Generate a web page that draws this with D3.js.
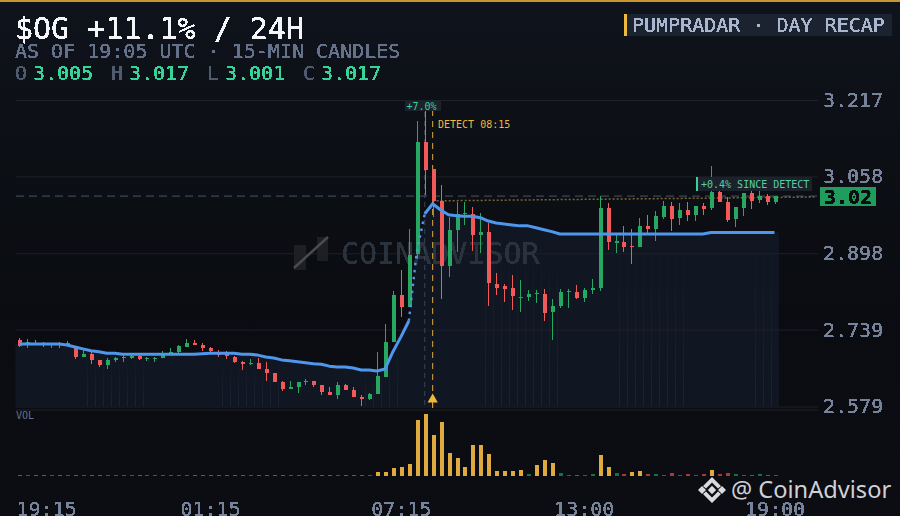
<!DOCTYPE html>
<html>
<head>
<meta charset="utf-8">
<script src="https://cdn.jsdelivr.net/npm/d3@7"></script>
<style>
  html, body { margin: 0; padding: 0; background: #0b0d12; overflow: hidden; }
  svg { display: block; font-family: "DejaVu Sans Mono", monospace; }
</style>
</head>
<body>
<div id="chart"></div>
<script>
// 15-min candles, index 0 = 19:15
const opens = [2.718,2.706,2.712,2.711,2.707,2.711,2.705,2.705,2.682,2.688,2.676,2.665,2.676,2.680,2.680,2.684,2.678,2.679,2.680,2.690,2.693,2.703,2.711,2.707,2.701,2.693,2.688,2.682,2.672,2.668,2.670,2.657,2.649,2.630,2.615,2.620,2.630,2.632,2.624,2.609,2.603,2.624,2.613,2.599,2.595,2.605,2.640,2.713,2.811,2.786,2.897,3.130,3.074,3.007,2.872,2.947,2.979,2.980,2.936,2.943,2.834,2.830,2.826,2.805,2.807,2.813,2.813,2.776,2.788,2.818,2.818,2.805,2.822,2.826,2.993,2.920,2.922,2.913,2.911,2.955,2.949,2.974,2.997,2.972,2.988,2.978,2.997,2.993,3.026,3.005,2.970,2.993,3.024,3.009,3.018,3.005];
const highs = [2.722,2.720,2.718,2.713,2.712,2.713,2.715,2.705,2.697,2.693,2.676,2.680,2.682,2.690,2.686,2.686,2.682,2.682,2.695,2.701,2.707,2.720,2.718,2.711,2.703,2.697,2.695,2.684,2.674,2.678,2.680,2.672,2.649,2.632,2.632,2.630,2.636,2.632,2.624,2.620,2.630,2.626,2.620,2.603,2.607,2.693,2.751,2.820,2.863,2.949,3.174,3.197,3.074,3.040,2.974,3.005,3.005,2.995,2.982,2.961,2.857,2.834,2.853,2.843,2.822,2.822,2.824,2.803,2.824,2.824,2.832,2.826,2.845,3.018,3.003,2.936,2.955,2.949,2.972,2.978,2.986,3.007,3.005,3.003,3.005,2.997,3.003,3.080,3.028,3.015,2.995,3.024,3.028,3.028,3.022,3.017];
const lows = [2.703,2.701,2.709,2.703,2.701,2.701,2.705,2.678,2.682,2.668,2.661,2.657,2.672,2.672,2.678,2.676,2.674,2.672,2.680,2.690,2.690,2.703,2.707,2.695,2.693,2.682,2.678,2.670,2.655,2.665,2.657,2.632,2.630,2.611,2.615,2.607,2.624,2.620,2.603,2.603,2.595,2.613,2.599,2.580,2.593,2.605,2.640,2.713,2.765,2.786,2.886,3.020,2.974,2.803,2.849,2.901,2.957,2.903,2.899,2.788,2.811,2.797,2.780,2.776,2.799,2.795,2.757,2.718,2.784,2.784,2.803,2.797,2.813,2.820,2.905,2.899,2.901,2.876,2.911,2.940,2.924,2.970,2.945,2.957,2.965,2.965,2.978,2.988,3.005,2.963,2.953,2.976,2.990,3.003,2.999,3.001];
const closes = [2.705,2.713,2.710,2.709,2.709,2.707,2.711,2.682,2.688,2.676,2.665,2.676,2.680,2.681,2.684,2.678,2.679,2.680,2.686,2.692,2.705,2.711,2.707,2.701,2.695,2.687,2.684,2.672,2.668,2.670,2.657,2.649,2.630,2.615,2.620,2.630,2.632,2.624,2.609,2.603,2.624,2.613,2.599,2.595,2.605,2.643,2.713,2.811,2.786,2.895,3.130,3.072,3.007,2.872,2.947,2.980,2.981,2.936,2.943,2.836,2.826,2.824,2.809,2.807,2.813,2.815,2.774,2.788,2.818,2.820,2.805,2.822,2.826,2.993,2.922,2.924,2.911,2.911,2.955,2.949,2.976,2.997,2.970,2.988,2.978,2.997,2.990,3.026,3.005,2.968,2.995,3.024,3.007,3.018,3.005,3.017];
const avgLine = [2.709,2.709,2.709,2.709,2.709,2.709,2.707,2.703,2.699,2.695,2.693,2.690,2.690,2.688,2.688,2.688,2.688,2.688,2.688,2.688,2.688,2.688,2.688,2.689,2.690,2.690,2.690,2.690,2.688,2.688,2.686,2.682,2.680,2.676,2.674,2.672,2.670,2.668,2.667,2.663,2.661,2.661,2.659,2.655,2.655,2.653,2.657,2.693,2.724,2.757,2.901,2.980,3.001,2.988,2.978,2.976,2.975,2.975,2.972,2.965,2.961,2.959,2.957,2.955,2.955,2.951,2.947,2.943,2.938,2.938,2.938,2.938,2.938,2.938,2.938,2.938,2.938,2.938,2.938,2.938,2.938,2.938,2.938,2.938,2.938,2.938,2.938,2.941,2.941,2.941,2.941,2.941,2.941,2.941,2.941,2.941];
const volumes = [1,1,1,1,1,1,1,1,1,1,1,1,1,1,1,1,1,1,1,1,1,1,1,1,1,1,1,1,1,1,1,1,1,1,1,1,1,1,1,1,1,1,1,1,1,4,4,8,9,12,56,62,41,54,23,18,9,31,31,22,5,5,5,6,2,11,16,13,3,1,1,1,2,21,9,3,2,4,5,2,2,1,3,1,2,1,2,6,2,3,2,1,1,2,1,1];
const stripeAt = [8.5,9.5,10.5,11.5,12.5,13.5,14.5,15.5,25.5,26.5,27.5,28.5,29.5,30.5,31.5,32.5,43.5,44.5,45.5,46.5,47.5,58.6,59.6,60.6,61.6,62.6,63.6,64.6,65.6,66.6,67.6,75.5,76.5,77.5,78.5,79.5,80.5,81.5,82.5,83.5,92.5,93.5,94.5];

const priceTicks = [3.217, 3.058, 2.898, 2.739, 2.579];
const timeTicks = [0, 24, 48, 71, 95];
const timeLabels = ["19:15", "01:15", "07:15", "13:00", "19:00"];
const ohlcNames = ["O", "H", "L", "C"];
const ohlcValues = ["3.005", "3.017", "3.001", "3.017"];

const detectIndex = 52;
const highIndex = 51;
const lastPrice = 3.017;
const detectLine = [{ i: 52, p: 3.007 }, { i: 100, p: 3.015 }];

const GREEN = "#27a862", RED = "#f25a5a", BLUE = "#4f97ec", AMBER = "#efb93f", MINT = "#37d399", SLATE = "#64718a";

const width = 900, height = 516;
const svg = d3.select("#chart").append("svg").attr("width", width).attr("height", height).attr("viewBox", `0 0 ${width} ${height}`);

const defs = svg.append("defs");
const bg = defs.append("linearGradient").attr("id", "pageBg").attr("x1", "0").attr("y1", "0").attr("x2", "0").attr("y2", "1");
bg.append("stop").attr("offset", "0%").attr("stop-color", "#0f131c");
bg.append("stop").attr("offset", "22%").attr("stop-color", "#0d1016");
bg.append("stop").attr("offset", "60%").attr("stop-color", "#0a0c11");
bg.append("stop").attr("offset", "100%").attr("stop-color", "#0b0d12");
const fade = defs.append("linearGradient").attr("id", "stripeFade").attr("x1", "0").attr("y1", "0").attr("x2", "0").attr("y2", "1");
fade.append("stop").attr("offset", "0%").attr("stop-color", "#2b3b55").attr("stop-opacity", 0.02);
fade.append("stop").attr("offset", "100%").attr("stop-color", "#2b3b55").attr("stop-opacity", 0.35);
// hard alpha edge, so the mono text reads blocky like the terminal look of the original
defs.append("filter").attr("id", "blocky").attr("x", "-2%").attr("y", "-10%").attr("width", "104%").attr("height", "120%")
  .append("feComponentTransfer").append("feFuncA").attr("type", "discrete").attr("tableValues", "0 1 1 1");

svg.append("rect").attr("width", width).attr("height", height).attr("fill", "url(#pageBg)");
svg.append("rect").attr("width", width).attr("height", 2).attr("fill", "#c8962f");

const x = d3.scaleLinear().domain([0, 95]).range([19.3, 774.5]);
const y = d3.scaleLinear().domain([2.579, 3.217]).range([406.5, 100]);
const yVol = d3.scaleLinear().domain([0, 62]).range([476, 414]);

// shaded area under the average line
const areaData = [{ i: -0.5, p: avgLine[0] }, ...avgLine.map((p, i) => ({ i, p })), { i: 95.55, p: avgLine[95] }];
svg.append("path").datum(areaData).attr("fill", "#101622").attr("d", d3.area().x((d) => x(d.i)).y0(y(2.579)).y1((d) => y(d.p)));

svg.append("g").selectAll("rect").data(stripeAt).enter().append("rect")
  .attr("x", (d) => Math.round(x(d)))
  .attr("width", 1)
  .attr("y", (d) => y(avgLine[Math.round(d)]) + 4)
  .attr("height", (d) => y(2.579) - y(avgLine[Math.round(d)]) - 4)
  .attr("fill", "url(#stripeFade)");

// grid
const gridY = d3.axisLeft(y).tickValues(priceTicks).tickSize(-802).tickFormat(() => "");
const grid = svg.append("g").attr("transform", "translate(16,0)").call(gridY);
grid.select(".domain").remove();
grid.selectAll("line").attr("stroke", "#1e2128");
svg.append("line").attr("x1", 16).attr("x2", 818).attr("y1", 410).attr("y2", 410).attr("stroke", "#1e2128");

// watermark
svg.append("rect").attr("x", 294).attr("y", 245).attr("width", 12).attr("height", 25).attr("fill", "#1d1f25");
svg.append("rect").attr("x", 317).attr("y", 237).attr("width", 11).attr("height", 24).attr("fill", "#1d1f25");
svg.append("line").attr("x1", 294).attr("y1", 268).attr("x2", 328).attr("y2", 237).attr("stroke", "#4a4b4f").attr("stroke-width", 2.5);
svg.append("text").attr("x", 341).attr("y", 264).attr("font-size", 30).attr("fill", "#2b313d").attr("filter", "url(#blocky)").text("COINADVISOR");

// reference lines
svg.append("line").attr("x1", 16).attr("x2", 818).attr("y1", y(lastPrice)).attr("y2", y(lastPrice)).attr("stroke", "#4a5568").attr("stroke-dasharray", "8 5");
svg.append("line").attr("x1", x(highIndex)).attr("x2", x(highIndex)).attr("y1", 112).attr("y2", 406).attr("stroke", "#3d4552").attr("stroke-dasharray", "5 4");
svg.append("line").attr("x1", x(detectIndex)).attr("x2", x(detectIndex)).attr("y1", 110).attr("y2", 398).attr("stroke", "#e0ab3e").attr("stroke-dasharray", "6 5");
svg.append("line").attr("x1", x(detectLine[0].i)).attr("x2", x(detectLine[1].i)).attr("y1", y(detectLine[0].p)).attr("y2", y(detectLine[1].p)).attr("stroke", "#a5813c").attr("stroke-opacity", 0.75).attr("stroke-width", 1.5).attr("stroke-dasharray", "2 2");

// candles
const candles = opens.map((o, i) => ({ i, o, h: highs[i], l: lows[i], c: closes[i] }));
const candleG = svg.append("g").attr("shape-rendering", "crispEdges");
candleG.selectAll("line").data(candles).enter().append("line")
  .attr("x1", (d) => Math.round(x(d.i)) + 0.5)
  .attr("x2", (d) => Math.round(x(d.i)) + 0.5)
  .attr("y1", (d) => y(d.h))
  .attr("y2", (d) => y(d.l))
  .attr("stroke", (d) => (d.c >= d.o ? GREEN : RED));
candleG.selectAll("rect").data(candles).enter().append("rect")
  .attr("x", (d) => Math.round(x(d.i)) - 1.5)
  .attr("width", 4)
  .attr("y", (d) => y(Math.max(d.o, d.c)))
  .attr("height", (d) => Math.max(1, Math.abs(y(d.o) - y(d.c))))
  .attr("fill", (d) => (d.c >= d.o ? GREEN : RED));

// average line: solid, dotted through the spike, solid again
const avgPath = d3.line().x((d) => x(d.i)).y((d) => y(d.p));
const avgPoints = avgLine.map((p, i) => ({ i, p }));
const avgStyle = (sel) => sel.attr("fill", "none").attr("stroke", BLUE).attr("stroke-linejoin", "round").attr("d", avgPath);
svg.append("path").datum(avgPoints.slice(0, 50)).attr("stroke-width", 3).call(avgStyle);
svg.append("path").datum(avgPoints.slice(49, 52)).attr("stroke-width", 2.4).attr("stroke-dasharray", "2.5 4.5").call(avgStyle);
svg.append("path").datum(avgPoints.slice(51)).attr("stroke-width", 3).call(avgStyle);

// detect marker
svg.append("path").attr("d", d3.symbol(d3.symbolTriangle, 46)()).attr("transform", `translate(${x(detectIndex)},399.5)`).attr("fill", AMBER);
svg.append("line").attr("x1", x(detectIndex)).attr("x2", x(detectIndex)).attr("y1", 402).attr("y2", 408).attr("stroke", AMBER);

// volume
svg.append("g").attr("shape-rendering", "crispEdges").selectAll("rect").data(volumes).enter().append("rect")
  .attr("x", (d, i) => Math.round(x(i)) - 1.5)
  .attr("width", 4)
  .attr("y", (d) => yVol(d))
  .attr("height", (d) => yVol(0) - yVol(d))
  .attr("fill", (d, i) => (d >= 4 ? "#e0ab3e" : closes[i] >= opens[i] ? "#12704a" : "#a83a3a"));
svg.append("text").attr("x", 16).attr("y", 419).attr("font-size", 10).attr("fill", SLATE).text("VOL");

// axes
const yAxis = svg.append("g").attr("transform", "translate(823,0)").call(d3.axisRight(y).tickValues(priceTicks).tickSize(0).tickPadding(0).tickFormat(d3.format(".3f")));
yAxis.select(".domain").remove();
yAxis.selectAll("text").attr("font-family", "DejaVu Sans Mono").attr("font-size", 20).attr("fill", "#76839a").attr("filter", "url(#blocky)");

const xAxis = svg.append("g").attr("transform", "translate(0,516)").call(d3.axisBottom(x).tickValues(timeTicks).tickSize(0).tickPadding(0).tickFormat((d, i) => timeLabels[i]));
xAxis.select(".domain").remove();
xAxis.selectAll("text")
  .attr("font-family", "DejaVu Sans Mono")
  .attr("font-size", 20)
  .attr("fill", "#76839a")
  .attr("filter", "url(#blocky)")
  .attr("y", 0)
  .attr("dy", 0)
  .attr("text-anchor", (d, i) => (i === 0 ? "start" : "middle"))
  .attr("x", (d, i) => (i === 0 ? 16 - x(0) : 0));

// header
svg.append("text").attr("x", 15).attr("y", 39).attr("font-size", 30).attr("fill", "#f3f5f9").attr("filter", "url(#blocky)").text("$OG +11.1% / 24H");
svg.append("text").attr("x", 15).attr("y", 58).attr("font-size", 20).attr("fill", SLATE).attr("filter", "url(#blocky)").text("AS OF 19:05 UTC · 15-MIN CANDLES");
const ohlcX = [15, 111, 207, 303];
ohlcNames.forEach((name, i) => {
  svg.append("text").attr("x", ohlcX[i]).attr("y", 80).attr("font-size", 20).attr("fill", "#4f5b70").attr("filter", "url(#blocky)").text(name);
  svg.append("text").attr("x", ohlcX[i] + 18).attr("y", 80).attr("font-size", 20).attr("fill", MINT).attr("filter", "url(#blocky)").text(ohlcValues[i]);
});

svg.append("rect").attr("x", 627).attr("y", 14).attr("width", 265).attr("height", 22).attr("fill", "#1b2330");
svg.append("rect").attr("x", 624).attr("y", 14).attr("width", 3).attr("height", 22).attr("fill", AMBER);
svg.append("text").attr("x", 632).attr("y", 32).attr("font-size", 20).attr("fill", "#a9b6cf").attr("filter", "url(#blocky)").text("PUMPRADAR · DAY RECAP");

// annotations
svg.append("rect").attr("x", 405).attr("y", 100).attr("width", 36).attr("height", 11).attr("fill", "#1c222b");
svg.append("text").attr("x", 406.5).attr("y", 109.5).attr("font-size", 10).attr("fill", MINT).text("+7.0%");
svg.append("text").attr("x", 438).attr("y", 127.5).attr("font-size", 10).attr("fill", AMBER).text("DETECT 08:15");

svg.append("rect").attr("x", 698).attr("y", 177).attr("width", 114).attr("height", 14).attr("fill", "#1c222c");
svg.append("rect").attr("x", 696).attr("y", 177).attr("width", 2).attr("height", 14).attr("fill", MINT);
svg.append("text").attr("x", 701).attr("y", 188).attr("font-size", 10).attr("fill", "#55d0a4").text("+0.4% SINCE DETECT");

svg.append("rect").attr("x", 820).attr("y", 187).attr("width", 56).attr("height", 19).attr("fill", "#1f9d5c");
svg.append("text").attr("x", 824).attr("y", 203.5).attr("font-size", 20).attr("font-weight", "bold").attr("fill", "#0b1014").attr("filter", "url(#blocky)").text("3.02");

// attribution
const logo = svg.append("g").attr("transform", "translate(712,490)").attr("fill", "#d9dade");
logo.append("path").attr("d", "M0,-4.2L4.2,0L0,4.2L-4.2,0Z");
logo.append("path").attr("d", "M-10,-4L-6,0L-10,4L-14,0Z");
logo.append("path").attr("d", "M10,-4L14,0L10,4L6,0Z");
logo.append("path").attr("d", "M0,-13L9,-4L6,-1.5L0,-7.5L-6,-1.5L-9,-4Z");
logo.append("path").attr("d", "M0,13L9,4L6,1.5L0,7.5L-6,1.5L-9,4Z");
svg.append("text").attr("x", 731).attr("y", 498).attr("font-family", "Noto Sans").attr("font-size", 23.6).attr("fill", "#cfd1d6").text("@ CoinAdvisor");
</script>
</body>
</html>
